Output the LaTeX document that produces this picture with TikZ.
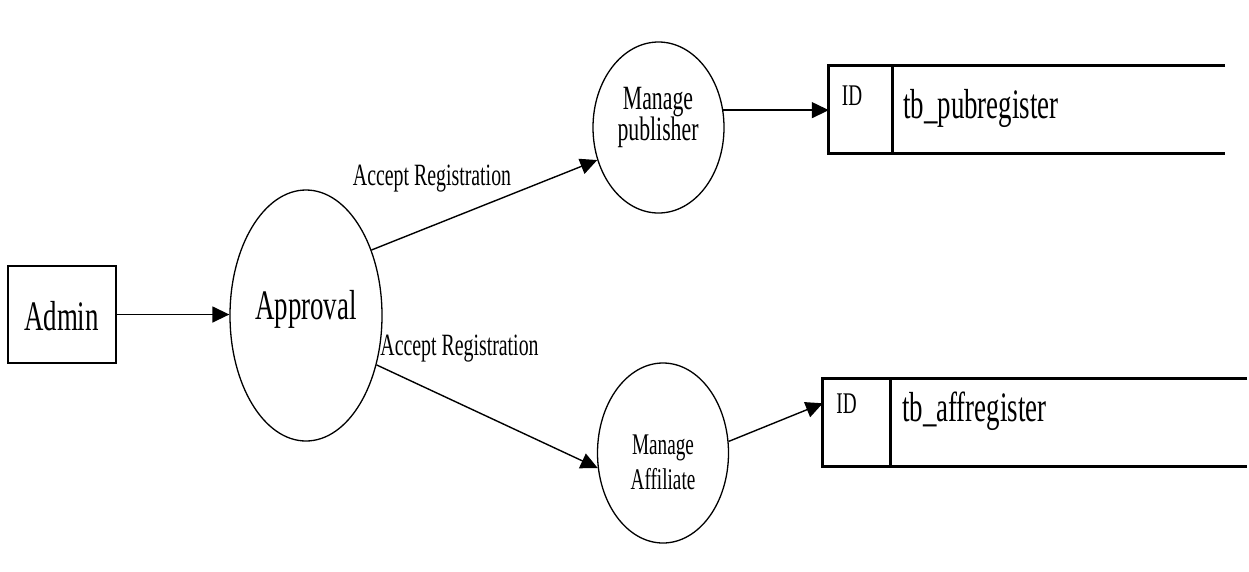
\documentclass[tikz,border=0pt]{standalone}
\usepackage{fontspec}
\newfontfamily\cond[FakeStretch=0.64]{Liberation Serif}
\usetikzlibrary{arrows.meta,shapes.geometric,calc}
\begin{document}
\begin{tikzpicture}[x=1pt,y=-1pt,
  proc/.style={draw, line width=1.3pt, ellipse, inner sep=0pt},
  flow/.style={draw, line width=1.4pt, -{Triangle[length=17pt,width=16pt]}},
  tab/.style={line width=3pt},
  lbl/.style={inner sep=0pt, anchor=base, font=\cond\fontsize{#1}{#1}\selectfont},
  lblw/.style={inner sep=0pt, anchor=base west, font=\cond\fontsize{#1}{#1}\selectfont}]
\useasboundingbox (0,0) rectangle (1249,571);

% entity
\node[draw, line width=1.3pt, minimum width=108pt, minimum height=97pt, inner sep=0pt] (admin) at (62,314.5) {};
\node[lbl=42] (admintxt) at (61.5,330) {Admin};

% processes
\node[proc, minimum width=152pt, minimum height=251pt] (appr) at (306,315.5) {};
\node[lbl=42] (apprtxt) at (306,319) {Approval};

\node[proc, minimum width=131pt, minimum height=171pt] (pub) at (658.5,127.5) {};
\node[lbl=34] (pubA) at (658,109) {Manage};
\node[lbl=34] (pubB) at (658,140) {publisher};

\node[proc, minimum width=131pt, minimum height=180pt] (aff) at (663,453) {};
\node[lbl=30] (affA) at (663,454) {Manage};
\node[lbl=30] (affB) at (663,489) {Affiliate};

% data stores
\node[minimum width=396pt, minimum height=87pt, inner sep=0pt] (t1) at (1027,109.5) {};
\coordinate (t1d) at (892,66);
\draw[tab] (t1.north east) -- (t1.north west) -- (t1.south west) -- (t1.south east);
\draw[tab] (t1d) -- (t1d |- t1.south);
\node[lbl=30] (t1id) at (852,105) {ID};
\node[lblw=42] (t1name) at (903,118) {tb\_pubregister};

\node[minimum width=424pt, minimum height=87pt, inner sep=0pt] (t2) at (1035,422.5) {};
\coordinate (t2d) at (890,379);
\draw[tab] (t2.north east) -- (t2.north west) -- (t2.south west) -- (t2.south east);
\draw[tab] (t2d) -- (t2d |- t2.south);
\node[lbl=30] (t2id) at (846.5,413) {ID};
\node[lblw=42] (t2name) at (902,421) {tb\_affregister};

% flows
\draw[flow] (admin.east) -- (admin.east -| appr.west);
\draw[flow] (appr.45) -- (pub.208);
\draw[flow] (appr.-35) -- (aff.193);
\draw[flow] (pub.15) -- (pub.15 -| t1.west);
\draw[flow] (aff.10) -- ($(t2.north west)!0.28!(t2.south west)$);

\node[lbl=31] (lab1) at (432,185) {Accept Registration};
\node[lbl=31] (lab2) at (459.5,355) {Accept Registration};
\end{tikzpicture}
\end{document}
